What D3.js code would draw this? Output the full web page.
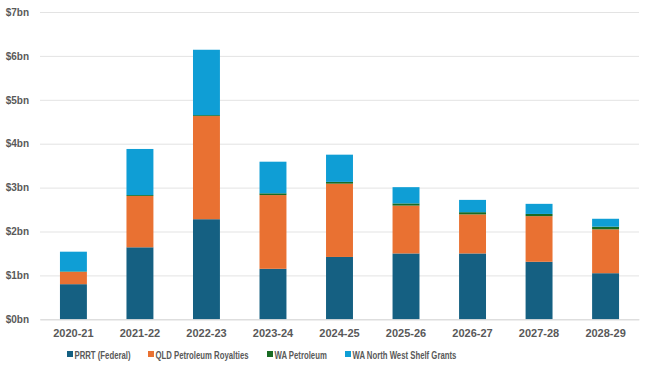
<!DOCTYPE html>
<html><head><meta charset="utf-8">
<script src="https://cdn.jsdelivr.net/npm/d3@7"></script>
<style>body{margin:0;background:#fff}svg{display:block}text{font-family:"Liberation Sans",Arial,sans-serif;font-weight:bold;fill:#595959}</style>
</head><body><svg id="c" width="649" height="370"></svg>
<script>
const categories = ["2020-21","2021-22","2022-23","2023-24","2024-25","2025-26","2026-27","2027-28","2028-29"];
const seriesNames = ["PRRT (Federal)","QLD Petroleum Royalties","WA Petroleum","WA North West Shelf Grants"];
const prrt   = [0.80, 1.64, 2.28, 1.15, 1.42, 1.50, 1.50, 1.31, 1.05];
const qld    = [0.28, 1.17, 2.35, 1.68, 1.67, 1.09, 0.89, 1.04, 1.00];
const waPet  = [0.01, 0.02, 0.02, 0.04, 0.04, 0.05, 0.05, 0.05, 0.06];
const waNws  = [0.45, 1.05, 1.49, 0.72, 0.62, 0.37, 0.28, 0.23, 0.18];
const yTicks = [0,1,2,3,4,5,6,7];
const colors = ["#156082","#E97132","#196B24","#0F9ED5"];

const svg = d3.select("#c");
const x = d3.scaleBand().domain(categories).range([40,639]).paddingInner(0.595).paddingOuter(0.3);
const y = d3.scaleLinear().domain([0,7]).range([319.3,12]);

const rows = categories.map((c,i)=>({cat:c, s0:prrt[i], s1:qld[i], s2:waPet[i], s3:waNws[i]}));
const stack = d3.stack().keys(["s0","s1","s2","s3"])(rows);

// gridlines
const yAxis = d3.axisLeft(y).tickValues(yTicks).tickFormat(d=>"$"+d+"bn").tickSize(-(639-40)).tickPadding(11);
const ga = svg.append("g").attr("transform","translate(40,0)").call(yAxis);
ga.select(".domain").remove();
ga.selectAll(".tick line").attr("stroke","#e3e3e3").attr("stroke-width",1);
ga.selectAll(".tick text").attr("font-size",10).attr("fill","#595959").style("font-family","'Liberation Sans',Arial,sans-serif").style("font-weight","bold");

// bars
svg.append("g").selectAll("g").data(stack).join("g").attr("fill",(d,i)=>colors[i])
  .selectAll("rect").data(d=>d).join("rect")
  .attr("x",d=>x(d.data.cat)).attr("width",x.bandwidth())
  .attr("y",d=>y(d[1])).attr("height",d=>y(d[0])-y(d[1]));

// x axis
const xAxis = d3.axisBottom(x).tickSize(0).tickPadding(10);
const gx = svg.append("g").attr("transform","translate(0,319.3)").call(xAxis);
gx.select(".domain").attr("stroke","#d9d9d9");
gx.selectAll(".tick text").attr("font-size",11).attr("fill","#595959").style("font-family","'Liberation Sans',Arial,sans-serif").style("font-weight","bold");

// legend
const legX = [67,148,267,345];
const leg = svg.append("g");
seriesNames.forEach((n,i)=>{
  const g = leg.append("g").attr("transform",`translate(${legX[i]},351)`);
  g.append("rect").attr("width",6).attr("height",6).attr("fill",colors[i]);
  g.append("text").attr("x",0).attr("y",7.5).attr("font-size",10.5)
   .attr("transform","translate(7.5,0) scale(0.74,1)").text(n);
});
</script></body></html>
